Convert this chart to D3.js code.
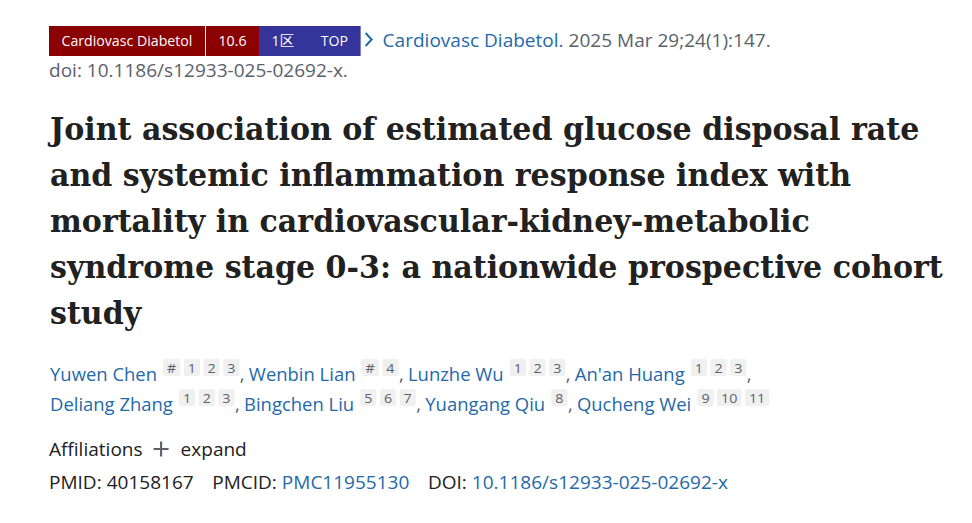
<!DOCTYPE html>
<html>
<head>
<meta charset="utf-8">
<script src="https://cdn.jsdelivr.net/npm/d3@7"></script>
<style>
  body { margin: 0; background: #fff; }
  svg { display: block; }
</style>
</head>
<body>
<div id="page"></div>
<script>
// ---- content ----
const badgeLabels = ["Cardiovasc Diabetol", "10.6", "1区", "TOP"];
const journalLink = "Cardiovasc Diabetol.";
const citation = "2025 Mar 29;24(1):147.";
const doiLine = "doi: 10.1186/s12933-025-02692-x.";
const titleLines = [
  "Joint association of estimated glucose disposal rate",
  "and systemic inflammation response index with",
  "mortality in cardiovascular-kidney-metabolic",
  "syndrome stage 0-3: a nationwide prospective cohort",
  "study"
];
const authorLines = [
  [
    { name: "Yuwen Chen", sups: ["#", "1", "2", "3"] },
    { name: "Wenbin Lian", sups: ["#", "4"] },
    { name: "Lunzhe Wu", sups: ["1", "2", "3"] },
    { name: "An'an Huang", sups: ["1", "2", "3"] }
  ],
  [
    { name: "Deliang Zhang", sups: ["1", "2", "3"] },
    { name: "Bingchen Liu", sups: ["5", "6", "7"] },
    { name: "Yuangang Qiu", sups: ["8"] },
    { name: "Qucheng Wei", sups: ["9", "10", "11"] }
  ]
];
const affilLabels = ["Affiliations", "expand"];
const idLabels = ["PMID:", "PMCID:", "DOI:"];
const idValues = ["40158167", "PMC11955130", "10.1186/s12933-025-02692-x"];
const idIsLink = [false, true, true];

// ---- look ----
const W = 972, H = 523;
const left = 49;
const sans = "'Open Sans', 'Noto Sans', sans-serif";
const serif = "'DejaVu Serif', serif";
const linkBlue = "#1f6aa8", grey = "#5b616b", ink = "#212121";
const red = "#8b0000", blue = "#34349b";

const svg = d3.select("#page").append("svg")
  .attr("width", W)
  .attr("height", H);
svg.append("rect").attr("width", W).attr("height", H).attr("fill", "#fff");

// measuring helper
const probe = svg.append("text").attr("x", -1000).attr("y", -1000);
const measure = (str, size, family, weight) => {
  probe.attr("font-size", size).attr("font-family", family)
    .attr("font-weight", weight || "normal").text(str);
  return probe.node().getComputedTextLength();
};
// plain spaces are trimmed by the measure, so take it from a pair
const spaceW = (size) => measure("a a", size, sans) - measure("aa", size, sans);

// body text squeeze so the doi line spans like in the page (49 -> 348)
const kBody = 299 / measure(doiLine, 18, sans);

// ---- badge row ----
const badgeSize = 15;
const kBadge = 131 / measure(badgeLabels[0], badgeSize, sans);
const badgeG = svg.append("g").attr("transform", `translate(${left},26) scale(${kBadge},1)`);
const bw = badgeLabels.map(s => measure(s, badgeSize, sans));
const pad = 12.5 / kBadge, inGap = 27 / kBadge;
let bx = 0;
const blocks = [
  { fill: red, items: [0] },
  { fill: red, items: [1] },
  { fill: blue, items: [2, 3] }
];
blocks.forEach((b, bi) => {
  const inner = d3.sum(b.items, i => bw[i]) + (b.items.length - 1) * inGap;
  const wdt = inner + pad * 2;
  badgeG.append("rect")
    .attr("x", bx).attr("y", 0)
    .attr("width", wdt).attr("height", 30)
    .attr("fill", b.fill);
  let tx = bx + pad;
  b.items.forEach(i => {
    badgeG.append("text")
      .attr("x", tx).attr("y", 20.5)
      .attr("font-family", sans).attr("font-size", badgeSize)
      .attr("fill", "#fff")
      .text(badgeLabels[i]);
    tx += bw[i] + inGap;
  });
  bx += wdt + (bi === 0 ? 1 / kBadge : 0);
});
const badgeEnd = left + bx * kBadge;

// chevron + journal citation
svg.append("path")
  .attr("d", `M${badgeEnd + 5},33 L${badgeEnd + 11},39.5 L${badgeEnd + 5},46`)
  .attr("fill", "none").attr("stroke", linkBlue).attr("stroke-width", 2);
const citeG = svg.append("g").attr("transform", `translate(${badgeEnd + 22},47) scale(${kBody},1)`);
const jw = measure(journalLink, 18, sans);
citeG.append("text").attr("font-family", sans).attr("font-size", 18)
  .attr("fill", linkBlue).text(journalLink);
citeG.append("text").attr("x", jw + spaceW(18)).attr("font-family", sans).attr("font-size", 18)
  .attr("fill", grey).text(citation);

svg.append("g").attr("transform", `translate(${left},77) scale(${kBody},1)`)
  .append("text").attr("font-family", sans).attr("font-size", 18)
  .attr("fill", grey).text(doiLine);

// ---- title ----
const titleSize = 32;
const tw = titleLines.map(s => measure(s, titleSize, serif, "bold"));
const kTitle = 893 / tw[3];
const titleY = d3.scalePoint().domain(d3.range(titleLines.length)).range([140, 324]);
svg.append("g").selectAll("g")
  .data(titleLines)
  .join("g")
  .attr("transform", (d, i) => `translate(50,${titleY(i)}) scale(${kTitle},1)`)
  .append("text")
  .attr("font-family", serif).attr("font-weight", "bold")
  .attr("font-size", titleSize)
  .attr("fill", ink)
  .text(d => d);

// ---- authors ----
// laid out in screen pixels; only each text is squeezed
const authorY = [381, 411];
const nameSize = 18, supSize = 13.5;
const kName = kBody * 0.97;
const squeezed = (g, x, y, size, fill, str, k, anchor) =>
  g.append("text")
    .attr("transform", `translate(${x},${y}) scale(${k},1)`)
    .attr("text-anchor", anchor || "start")
    .attr("font-family", sans).attr("font-size", size)
    .attr("fill", fill).text(str);

authorLines.forEach((line, li) => {
  const g = svg.append("g").attr("transform", `translate(${left + 1},${authorY[li]})`);
  let x = 0;
  line.forEach((a, ai) => {
    squeezed(g, x, 0, nameSize, linkBlue, a.name, kName);
    x += measure(a.name, nameSize, sans) * kName + 6;
    a.sups.forEach((s, si) => {
      const sw = measure(s, supSize, sans) * kBody + 8;
      g.append("rect")
        .attr("x", x).attr("y", -22)
        .attr("width", sw).attr("height", 17)
        .attr("rx", 2)
        .attr("fill", "#f0f0f0");
      squeezed(g, x + sw / 2, -8.5, supSize, grey, s, kBody, "middle");
      x += sw + (si < a.sups.length - 1 ? 3.5 : 0);
    });
    const last = li === authorLines.length - 1 && ai === line.length - 1;
    if (!last) {
      squeezed(g, x + 0.5, 0, nameSize, grey, ",", kName);
      x += 9.5;
    }
  });
});

// ---- affiliations ----
const affG = svg.append("g").attr("transform", `translate(${left},456) scale(${kBody},1)`);
const aw = measure(affilLabels[0], 18, sans);
affG.append("text").attr("font-family", sans).attr("font-size", 18)
  .attr("fill", ink).text(affilLabels[0]);
const px = aw + 11 / kBody;
affG.append("path")
  .attr("d", `M${px},-7 h${15 / kBody} M${px + 7.5 / kBody},-14.5 v15`)
  .attr("stroke", grey).attr("stroke-width", 2).attr("fill", "none");
affG.append("text").attr("x", px + 27 / kBody)
  .attr("font-family", sans).attr("font-size", 18)
  .attr("fill", ink).text(affilLabels[1]);

// ---- ids ----
const idG = svg.append("g").attr("transform", `translate(${left},489) scale(${kBody},1)`);
let ix = 0;
idLabels.forEach((lab, i) => {
  idG.append("text").attr("x", ix).attr("font-family", sans).attr("font-size", 18)
    .attr("fill", ink).text(lab);
  ix += measure(lab, 18, sans) + spaceW(18);
  idG.append("text").attr("x", ix).attr("font-family", sans).attr("font-size", 18)
    .attr("fill", idIsLink[i] ? linkBlue : ink).text(idValues[i]);
  ix += measure(idValues[i], 18, sans) + 18.5 / kBody;
});

probe.remove();
</script>
</body>
</html>
